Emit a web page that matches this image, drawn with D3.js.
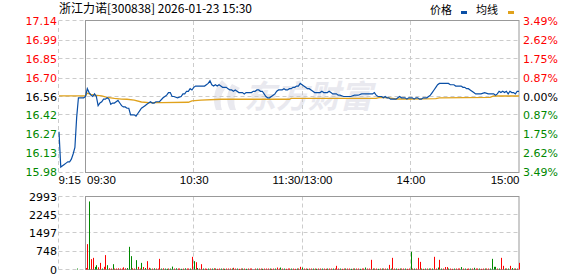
<!DOCTYPE html>
<html>
<head>
<meta charset="utf-8">
<script src="https://cdn.jsdelivr.net/npm/d3@7"></script>
<style>
  body { margin: 0; background: #fff; }
  svg { display: block; }
</style>
</head>
<body>
<div id="chart"></div>
<script>
// ---- data ----
const title = "浙江力诺[300838] 2026-01-23 15:30";
const prevClose = 16.56;
const pctRange = 0.0349;
const priceTicks = ["17.14", "16.99", "16.85", "16.70", "16.56", "16.42", "16.27", "16.13", "15.98"];
const pctTicks = ["3.49%", "2.62%", "1.75%", "0.87%", "0.00%", "0.87%", "1.75%", "2.62%", "3.49%"];
const volTicks = [2993, 2245, 1497, 748, 0];
const timeLabels = ["9:15", "09:30", "10:30", "11:30/13:00", "14:00", "15:00"];
const timeLabelAt = ["09:15", "09:30", "10:30", "11:30", "14:00", "15:00"];
const gridTimes = ["10:30", "11:30", "14:00"];

const priceTimes = [
  "09:15","09:16","09:17","09:18","09:19","09:20","09:21","09:22","09:23","09:24","09:25","09:26","09:27","09:28","09:29",
  "09:30","09:31","09:32","09:33","09:34","09:35","09:36","09:37","09:38","09:39","09:40","09:41","09:42","09:43","09:44",
  "09:45","09:46","09:47","09:48","09:49","09:50","09:51","09:52","09:53","09:54","09:55","09:56","09:57","09:58","09:59",
  "10:00","10:01","10:02","10:03","10:04","10:05","10:06","10:07","10:08","10:09","10:11","10:13","10:14","10:15","10:16",
  "10:17","10:18","10:19","10:21","10:23","10:24","10:25","10:26","10:27","10:28","10:29","10:30","10:31","10:32","10:33",
  "10:34","10:35","10:36","10:37","10:38","10:39","10:40","10:41","10:42","10:43","10:44","10:45","10:46","10:47","10:48",
  "10:49","10:50","10:51","10:52","10:53","10:54","10:55","10:56","10:57","10:58","10:59","11:00","11:01","11:02","11:03",
  "11:04","11:05","11:06","11:07","11:08","11:09","11:10","11:11","11:12","11:13","11:14","11:15","11:16","11:17","11:18",
  "11:19","11:20","11:21","11:22","11:23","11:24","11:25","11:26","11:27","11:28","11:29","11:30","13:01","13:02","13:03",
  "13:04","13:05","13:06","13:07","13:08","13:09","13:10","13:11","13:12","13:13","13:14","13:15","13:16","13:17","13:18",
  "13:19","13:20","13:21","13:23","13:25","13:27","13:29","13:31","13:33","13:35","13:37","13:39","13:40","13:41","13:42",
  "13:43","13:44","13:45","13:46","13:47","13:48","13:49","13:50","13:51","13:52","13:53","13:54","13:55","13:56","13:57",
  "13:58","13:59","14:00","14:01","14:02","14:03","14:04","14:05","14:06","14:07","14:08","14:09","14:10","14:11","14:12",
  "14:13","14:14","14:15","14:16","14:17","14:19","14:21","14:22","14:23","14:24","14:25","14:26","14:27","14:28","14:29",
  "14:30","14:31","14:32","14:33","14:34","14:35","14:36","14:37","14:38","14:39","14:41","14:43","14:45","14:46","14:47",
  "14:48","14:49","14:50","14:51","14:52","14:53","14:54","14:55","14:56","14:57","14:58","14:59","15:00"
];
const prices = [
  16.29,16.02,16.03,16.04,16.05,16.06,16.06,16.08,16.12,16.17,16.40,16.55,16.55,16.55,16.55,
  16.56,16.62,16.59,16.57,16.56,16.58,16.56,16.49,16.51,16.52,16.54,16.54,16.55,16.54,16.50,
  16.51,16.51,16.52,16.53,16.51,16.49,16.48,16.48,16.47,16.47,16.42,16.42,16.42,16.41,16.43,
  16.45,16.47,16.48,16.49,16.50,16.51,16.52,16.51,16.51,16.52,16.52,16.55,16.56,16.57,16.59,
  16.59,16.56,16.56,16.55,16.56,16.58,16.58,16.60,16.60,16.62,16.61,16.63,16.64,16.64,16.64,
  16.64,16.64,16.64,16.65,16.66,16.68,16.65,16.64,16.65,16.64,16.65,16.64,16.63,16.63,16.63,
  16.62,16.61,16.61,16.60,16.61,16.60,16.59,16.59,16.59,16.58,16.59,16.59,16.59,16.59,16.60,
  16.60,16.61,16.61,16.60,16.60,16.58,16.56,16.55,16.55,16.56,16.57,16.58,16.60,16.61,16.61,
  16.61,16.62,16.61,16.61,16.62,16.62,16.63,16.63,16.64,16.64,16.66,16.65,16.64,16.63,16.62,
  16.62,16.61,16.60,16.59,16.59,16.59,16.59,16.60,16.59,16.59,16.59,16.60,16.59,16.58,16.58,
  16.58,16.57,16.57,16.56,16.56,16.56,16.57,16.57,16.58,16.58,16.58,16.58,16.59,16.57,16.56,
  16.56,16.56,16.55,16.56,16.55,16.55,16.54,16.54,16.54,16.54,16.55,16.56,16.55,16.55,16.55,
  16.54,16.55,16.55,16.55,16.54,16.55,16.55,16.54,16.54,16.55,16.55,16.55,16.56,16.57,16.59,
  16.61,16.63,16.65,16.66,16.66,16.66,16.66,16.65,16.65,16.65,16.64,16.64,16.64,16.64,16.63,
  16.63,16.62,16.62,16.61,16.60,16.59,16.58,16.58,16.58,16.58,16.59,16.58,16.58,16.58,16.57,
  16.58,16.60,16.59,16.60,16.59,16.60,16.58,16.60,16.59,16.59,16.58,16.60,16.60
];

const avgTimes = [
  "09:15","09:30","09:31","09:33","09:35","09:39","09:42","09:46","09:50","09:53","09:57","10:01",
  "10:05","10:12","10:27","10:29","10:34","10:45","11:04","11:23","11:24","13:41","13:43","13:48",
  "13:52","13:59","14:14","14:16","14:44","14:46","15:00"
];
const avgPrices = [
  16.565,16.565,16.585,16.577,16.570,16.564,16.554,16.546,16.540,16.539,16.533,16.518,
  16.513,16.513,16.516,16.526,16.533,16.539,16.539,16.539,16.546,16.546,16.554,16.549,
  16.541,16.541,16.543,16.549,16.554,16.564,16.564
];

// pre-market volume
const preVolTimes = ["09:25"];
const preVols = [40];
const preVolDirs = "g";
// one bar per minute, 09:30 .. 11:30 then 13:01 .. 15:00
const volumes = [
  60,1040,2790,425,478,107,177,90,272,40,110,590,177,50,40,218,40,40,50,40,
  40,90,50,60,930,548,50,40,383,107,40,272,100,60,342,70,40,40,50,40,
  40,437,40,50,40,30,40,40,120,40,50,40,40,30,40,50,40,40,40,520,
  342,300,60,40,218,40,40,30,40,40,40,50,40,30,40,40,40,30,40,40,
  40,40,70,40,40,30,40,40,40,30,40,40,40,0,40,40,40,40,30,40,
  40,40,40,30,40,40,80,40,80,40,40,30,40,40,40,40,30,40,40,110,
  80,40,40,30,40,40,40,40,30,40,40,40,40,30,40,40,40,40,40,150,
  40,40,30,40,40,40,40,30,40,40,40,40,30,40,40,80,40,40,397,40,
  40,40,30,40,40,40,40,40,190,40,478,40,40,30,40,40,40,40,30,40,
  725,40,40,40,478,313,40,30,40,40,40,40,40,520,40,80,397,40,40,100,
  100,40,40,30,40,40,40,40,100,40,40,30,40,40,40,70,40,40,40,30,
  40,40,40,40,40,437,110,110,40,40,478,150,40,40,40,150,60,40,40,40,272
];
const volDirs =
  "rrgrrggrrgrrgrrgrrrr" + "rrrgggrrgrrgrgrrgrgr" + "rrgrggrggrgrrgrgrrgr" +
  "grgrrgrrgrgrgrrgrgrr" + "rgrrgrrgrgrrrgrgrrgr" + "rrgrrgrrgrgrrrgrrgrr" +
  "grrgrrgrgrrgrrgrrgrr" + "rgrrgrrgrgrrgrrgrrrg" + "rrgrgrrgrgrrgrgrrgrr" +
  "grgrrrgrgrgrgrrgrgrr" + "rgrrgrrrgrgrrgrgrrgr" + "rgrrggggrgrrgrgrgrgrr";

// ---- layout ----
const W = 578, H = 276;
const RED = "#ff0000", GREEN = "#008800", BLUE = "#0a4fa6", ORANGE = "#e0a21c";
const numFont = "'DejaVu Sans', Verdana, sans-serif";
const cjkFont = "'Noto Sans CJK SC', sans-serif";

function minuteIndex(s) {
  const [h, m] = s.split(":").map(Number);
  const mins = h * 60 + m;
  if (mins <= 11 * 60 + 30) return mins - (9 * 60 + 15);
  return 135 + mins - 13 * 60;
}

const svg = d3.select("#chart").append("svg")
    .attr("width", W)
    .attr("height", H);

svg.append("rect").attr("width", W).attr("height", H).attr("fill", "#fff");

// time scale: 9:15 | 9:30 .. 11:30/13:00 .. 15:00
const x = d3.scaleLinear()
    .domain([0, 15, 135, 255])
    .range([59, 85.5, 302, 519]);

const y = d3.scaleLinear()
    .domain([prevClose * (1 - pctRange), prevClose * (1 + pctRange)])
    .range([172, 21]);

const yv = d3.scaleLinear()
    .domain([0, 2993])
    .range([269.5, 196.5]);

const left = 58.5, preEnd = 85.5, right = 519;
const crisp = v => Math.round(v - 0.5) + 0.5;

// watermark
const wm = svg.append("g").attr("fill", "#e9e9ef");
wm.append("path")
    .attr("d", "M222,80 C214,88 212,100 216,110 L222,110 C219,101 221,92 228,86 Z M232,84 C226,92 226,102 230,110 L236,110 C233,102 234,94 240,88 Z");
wm.append("text")
    .attr("x", 244)
    .attr("y", 108)
    .attr("font-family", cjkFont)
    .attr("font-size", 32)
    .attr("font-weight", "bold")
    .attr("font-style", "italic")
    .text("东方财富");

// ---- price panel ----
const grid = svg.append("g")
    .attr("stroke", "#cccccc")
    .attr("stroke-dasharray", "4,3")
    .attr("fill", "none");

priceTicks.forEach(t => {
  const yy = crisp(y(+t));
  grid.append("line").attr("x1", left).attr("x2", right).attr("y1", yy).attr("y2", yy);
});
gridTimes.forEach(t => {
  const xx = crisp(x(minuteIndex(t)));
  grid.append("line").attr("x1", xx).attr("x2", xx).attr("y1", 21).attr("y2", 172);
  grid.append("line").attr("x1", xx).attr("x2", xx).attr("y1", 196.5).attr("y2", 269.5);
});
grid.append("line").attr("x1", left).attr("x2", left).attr("y1", 21).attr("y2", 172);
grid.append("line").attr("x1", left).attr("x2", left).attr("y1", 196.5).attr("y2", 269.5);
volTicks.forEach(v => {
  const yy = crisp(yv(v));
  grid.append("line").attr("x1", left).attr("x2", right).attr("y1", yy).attr("y2", yy);
});

svg.append("rect")
    .attr("x", preEnd).attr("y", crisp(y(17.14)))
    .attr("width", right - preEnd).attr("height", crisp(y(15.98)) - crisp(y(17.14)))
    .attr("fill", "none").attr("stroke", "#999").attr("stroke-width", 1);

svg.append("rect")
    .attr("x", preEnd).attr("y", crisp(yv(2993)))
    .attr("width", right - preEnd).attr("height", crisp(yv(0)) - crisp(yv(2993)))
    .attr("fill", "none").attr("stroke", "#999").attr("stroke-width", 1);

const priceData = priceTimes.map((t, i) => ({ t: minuteIndex(t), p: prices[i] }));
const avgData = avgTimes.map((t, i) => ({ t: minuteIndex(t), p: avgPrices[i] }));

const line = d3.line()
    .x(d => x(d.t))
    .y(d => y(d.p));

svg.append("path")
    .datum(avgData)
    .attr("fill", "none")
    .attr("stroke", ORANGE)
    .attr("stroke-width", 1.3)
    .attr("d", line);

svg.append("path")
    .datum(priceData)
    .attr("fill", "none")
    .attr("stroke", BLUE)
    .attr("stroke-width", 1.2)
    .attr("d", line);

// left price axis
const colorFor = v => v > prevClose + 0.001 ? RED : (v < prevClose - 0.001 ? GREEN : "#000");

const yAxisL = svg.append("g")
    .attr("transform", "translate(57,0)")
    .call(d3.axisLeft(y).tickValues(priceTicks.map(Number)).tickSize(0).tickPadding(0)
      .tickFormat((d, i) => priceTicks[i]));
yAxisL.select(".domain").remove();
yAxisL.selectAll("text")
    .attr("font-family", numFont)
    .attr("font-size", 11)
    .attr("fill", d => colorFor(d));

const yAxisR = svg.append("g")
    .attr("transform", "translate(523,0)")
    .call(d3.axisRight(y).tickValues(priceTicks.map(Number)).tickSize(0).tickPadding(0)
      .tickFormat((d, i) => pctTicks[i]));
yAxisR.select(".domain").remove();
yAxisR.selectAll("text")
    .attr("font-family", numFont)
    .attr("font-size", 11)
    .attr("fill", d => colorFor(d));

// time axis
const xAxis = svg.append("g")
    .attr("transform", "translate(0,176)")
    .call(d3.axisBottom(x).tickValues(timeLabelAt.map(minuteIndex)).tickSize(0).tickPadding(0)
      .tickFormat((d, i) => timeLabels[i]));
xAxis.select(".domain").remove();
xAxis.selectAll("text")
    .attr("font-family", "'Liberation Sans', Arial, sans-serif")
    .attr("font-size", 11.5)
    .attr("fill", "#000")
    .attr("dy", "0.71em")
    .attr("text-anchor", (d, i) => i === 0 || i === 1 ? "start" : (i === timeLabels.length - 1 ? "end" : "middle"))
    .attr("dx", (d, i) => i === 0 ? -1 : (i === 1 ? 1 : 0));

// ---- volume panel ----
const volData = volumes.map((v, i) => ({ t: 15 + i, v: v, dir: volDirs[i] }))
    .concat(preVols.map((v, i) => ({ t: minuteIndex(preVolTimes[i]), v: v, dir: preVolDirs[i] })));

svg.append("g").selectAll("rect")
    .data(volData.filter(d => d.v > 0))
    .join("rect")
    .attr("x", d => Math.round(x(d.t)))
    .attr("width", 1)
    .attr("y", d => yv(d.v))
    .attr("height", d => Math.max(1, yv(0) - yv(d.v)))
    .attr("fill", d => d.dir === "r" ? RED : GREEN);

const yAxisV = svg.append("g")
    .attr("transform", "translate(57,0)")
    .call(d3.axisLeft(yv).tickValues(volTicks).tickSize(0).tickPadding(0)
      .tickFormat(d3.format("d")));
yAxisV.select(".domain").remove();
yAxisV.selectAll("text")
    .attr("font-family", numFont)
    .attr("font-size", 11)
    .attr("fill", "#000");

// ---- title and legend ----
svg.append("text")
    .attr("x", 59)
    .attr("y", 13)
    .attr("font-family", cjkFont)
    .attr("font-size", 12)
    .attr("fill", "#000")
    .text(title);

const legend = svg.append("g").attr("font-family", cjkFont).attr("font-size", 11).attr("fill", "#000");
legend.append("text").attr("x", 430).attr("y", 14).text("价格");
legend.append("rect").attr("x", 461).attr("y", 11).attr("width", 6).attr("height", 3).attr("fill", BLUE);
legend.append("text").attr("x", 476).attr("y", 14).text("均线");
legend.append("rect").attr("x", 508).attr("y", 11).attr("width", 6).attr("height", 3).attr("fill", ORANGE);
</script>
</body>
</html>
